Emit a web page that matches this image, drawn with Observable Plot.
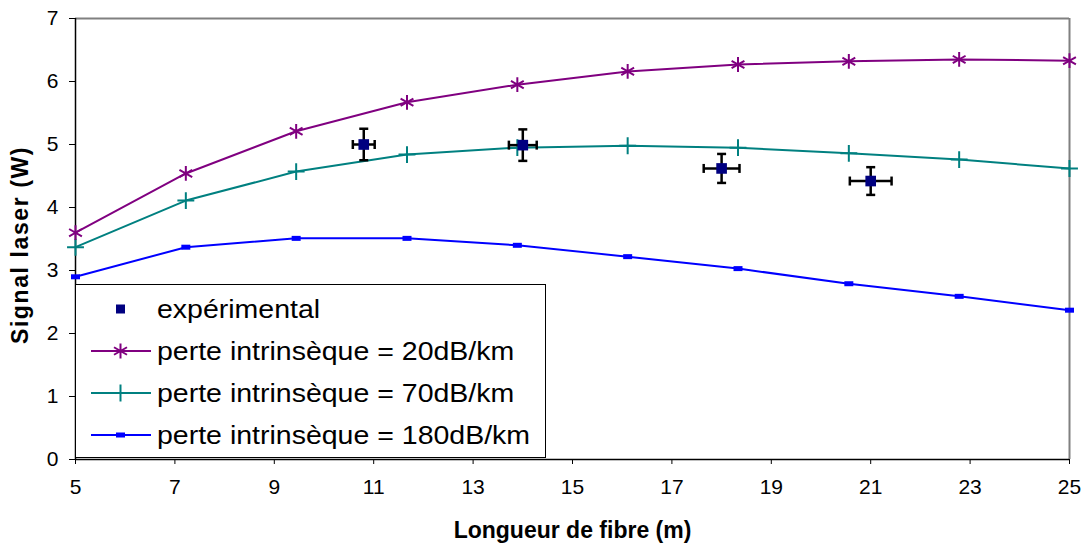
<!DOCTYPE html>
<html>
<head>
<meta charset="utf-8">
<script src="https://cdn.jsdelivr.net/npm/d3@7"></script>
<script src="https://cdn.jsdelivr.net/npm/@observablehq/plot@0.6"></script>
<style>
  html, body { margin: 0; padding: 0; background: #fff; }
  #wrap { position: relative; width: 1083px; height: 550px; font-family: "Liberation Sans", Arial, sans-serif; }
  #legend { position: absolute; left: 75px; top: 284px; width: 471px; height: 174px; border: 1px solid #000; background: #fff; box-sizing: border-box; padding-top: 3px; }
  .row { display: flex; align-items: center; height: 42px; font-size: 25px; color: #000; }
  .row svg { margin-left: 15px; margin-right: 5px; flex: none; }
  .row span { display: inline-block; transform: scaleX(1.14); transform-origin: 0 50%; white-space: nowrap; }
</style>
</head>
<body>
<div id="wrap"></div>
<script>
// ---- Data ----
const lengths = [5, 7.22, 9.44, 11.67, 13.89, 16.11, 18.33, 20.56, 22.78, 25];
const perte20 = [3.60, 4.54, 5.21, 5.67, 5.95, 6.16, 6.27, 6.32, 6.35, 6.33];
const perte70 = [3.37, 4.11, 4.57, 4.84, 4.95, 4.98, 4.95, 4.86, 4.76, 4.62];
const perte180 = [2.90, 3.37, 3.51, 3.51, 3.40, 3.22, 3.03, 2.79, 2.59, 2.37];
const expX = [10.8, 14, 18, 21];
const expY = [5.00, 4.99, 4.62, 4.42];
const expErrX = [0.22, 0.28, 0.36, 0.42];
const expErrY = [0.25, 0.25, 0.23, 0.22];
const xTicks = [5, 7, 9, 11, 13, 15, 17, 19, 21, 23, 25];
const yTicks = [0, 1, 2, 3, 4, 5, 6, 7];
const seriesNames = ["expérimental", "perte intrinsèque = 20dB/km", "perte intrinsèque = 70dB/km", "perte intrinsèque = 180dB/km"];
const xTitle = "Longueur de fibre (m)";
const yTitle = "Signal laser (W)";
const colors = {exp: "#000080", p20: "#800080", p70: "#008080", p180: "#0000FF"};

const s20 = lengths.map((x, i) => ({x, y: perte20[i]}));
const s70 = lengths.map((x, i) => ({x, y: perte70[i]}));
const s180 = lengths.map((x, i) => ({x, y: perte180[i]}));
const exp = expX.map((x, i) => ({x, y: expY[i], ex: expErrX[i], ey: expErrY[i]}));

// custom symbols
const rectSymbol = {draw(ctx) { ctx.rect(-4.5, -2.5, 9, 5); }};
const capH = {draw(ctx) { ctx.moveTo(-4.5, 0); ctx.lineTo(4.5, 0); }};
const capV = {draw(ctx) { ctx.moveTo(0, -4.5); ctx.lineTo(0, 4.5); }};

const font = "Liberation Sans, Arial, sans-serif";

const chart = Plot.plot({
  width: 1083,
  height: 550,
  marginLeft: 75,
  marginRight: 14,
  marginTop: 18,
  marginBottom: 91,
  style: {fontFamily: font, background: "#fff", color: "#000"},
  x: {domain: [5, 25]},
  y: {domain: [0, 7]},
  marks: [
    // frame
    Plot.ruleY([7], {stroke: "#808080", strokeWidth: 2}),
    Plot.ruleX([25], {stroke: "#808080", strokeWidth: 2}),
    Plot.ruleX([5], {stroke: "#000", strokeWidth: 1.5}),
    Plot.ruleY([0], {stroke: "#000", strokeWidth: 1.5}),
    Plot.axisX({ticks: xTicks, tickSize: 5, tickPadding: 15, fontSize: 21, tickFormat: d => d, label: null, stroke: "#000", fill: "#000"}),
    Plot.axisY({ticks: yTicks, tickSize: 6, tickPadding: 11, fontSize: 21, tickFormat: d => d, label: null, stroke: "#000", fill: "#000"}),
    Plot.text([xTitle], {frameAnchor: "bottom", dy: 78, fontSize: 23, fontWeight: "bold", fill: "#000", textAnchor: "middle"}),
    Plot.text([yTitle], {frameAnchor: "left", textAnchor: "middle", rotate: -90, dx: -55, dy: 6, fontSize: 23, fontWeight: "bold", fill: "#000"}),
    // series
    Plot.line(s180, {x: "x", y: "y", stroke: colors.p180, strokeWidth: 2}),
    Plot.dot(s180, {x: "x", y: "y", symbol: rectSymbol, fill: colors.p180, stroke: "none"}),
    Plot.line(s70, {x: "x", y: "y", stroke: colors.p70, strokeWidth: 2}),
    Plot.dot(s70, {x: "x", y: "y", symbol: "plus", r: 5.5, stroke: colors.p70, strokeWidth: 2}),
    Plot.line(s20, {x: "x", y: "y", stroke: colors.p20, strokeWidth: 2}),
    Plot.dot(s20, {x: "x", y: "y", symbol: "asterisk", r: 7, stroke: colors.p20, strokeWidth: 2}),
    // error bars
    Plot.link(exp, {x1: d => d.x, x2: d => d.x, y1: d => d.y - d.ey, y2: d => d.y + d.ey, stroke: "#000", strokeWidth: 2.5}),
    Plot.link(exp, {x1: d => d.x - d.ex, x2: d => d.x + d.ex, y1: "y", y2: "y", stroke: "#000", strokeWidth: 2.5}),
    Plot.dot(exp, {x: "x", y: d => d.y - d.ey, symbol: capH, stroke: "#000", strokeWidth: 2.5}),
    Plot.dot(exp, {x: "x", y: d => d.y + d.ey, symbol: capH, stroke: "#000", strokeWidth: 2.5}),
    Plot.dot(exp, {x: d => d.x - d.ex, y: "y", symbol: capV, stroke: "#000", strokeWidth: 2.5}),
    Plot.dot(exp, {x: d => d.x + d.ex, y: "y", symbol: capV, stroke: "#000", strokeWidth: 2.5}),
    Plot.dot(exp, {x: "x", y: "y", symbol: "square", r: 6, fill: colors.exp, stroke: "none"})
  ]
});

const wrap = document.getElementById("wrap");
wrap.appendChild(chart);

// stretch the vertical axis title along its length, as in the reference
d3.select(chart).selectAll("text").filter(function() { return this.textContent === yTitle; })
  .attr("letter-spacing", "1.6px");

// legend (HTML overlay inside plot area)
const legend = document.createElement("div");
legend.id = "legend";
const swatches = [
  `<rect x="25" y="5.5" width="9" height="9" fill="${colors.exp}"/>`,
  `<line x1="0" y1="10" x2="60" y2="10" stroke="${colors.p20}" stroke-width="2"/>` +
    `<path d="M29.5,2.5V17.5M23,6.25L36,13.75M23,13.75L36,6.25" stroke="${colors.p20}" stroke-width="2" fill="none"/>`,
  `<line x1="0" y1="10" x2="60" y2="10" stroke="${colors.p70}" stroke-width="2"/>` +
    `<path d="M29.5,1.5V18.5" stroke="${colors.p70}" stroke-width="2"/>`,
  `<line x1="0" y1="10" x2="60" y2="10" stroke="${colors.p180}" stroke-width="2"/>` +
    `<rect x="25" y="7.5" width="9" height="5" fill="${colors.p180}"/>`
];
seriesNames.forEach((name, i) => {
  const row = document.createElement("div");
  row.className = "row";
  row.innerHTML = `<svg width="61" height="20">${swatches[i]}</svg><span>${name}</span>`;
  legend.appendChild(row);
});
wrap.appendChild(legend);
</script>
</body>
</html>
